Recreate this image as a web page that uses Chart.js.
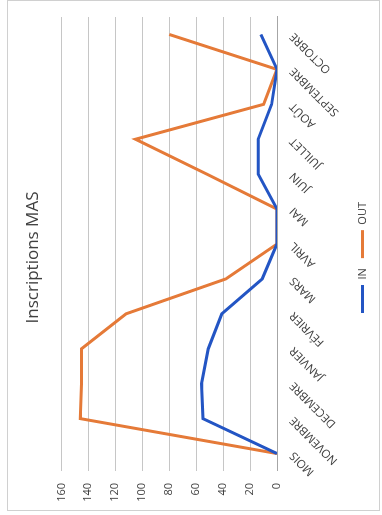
<!DOCTYPE html>
<html>
<head>
<meta charset="utf-8">
<script src="https://cdn.jsdelivr.net/npm/chart.js@4.4.1/dist/chart.umd.min.js"></script>
<style>
html, body { margin: 0; padding: 0; background: #fff; overflow: hidden; }
/* the chart is drawn landscape, then turned a quarter to the left like the scan */
#wrap { position: absolute; left: 0; top: 0; width: 515px; height: 382px;
        transform-origin: 0 0; transform: translate(0, 515px) rotate(-90deg); }
#frame { position: absolute; left: 4px; top: 7px; width: 509px; height: 371px; border: 1px solid #d0d0d0; }
canvas { position: absolute; left: 0; top: 0; }
</style>
</head>
<body>
<div id="wrap"><div id="frame"></div><canvas id="myChart" width="515" height="382"></canvas></div>
<script>
var mois = ['MOIS', 'NOVEMBRE', 'DECEMBRE', 'JANVIER', 'FÉVRIER', 'MARS', 'AVRIL',
            'MAI', 'JUIN', 'JUILLET', 'AOÛT', 'SEPTEMBRE', 'OCTOBRE'];
var inscritsIn  = [0, 55, 56, 51, 41, 11, 0, 0, 14, 14, 4, 0, 12];
var inscritsOut = [0, 146, 145, 145, 112, 38, 0, 0, 52, 105, 10, 0, 80];
var valeurMin = 0;
var valeurMax = 160;
var pasValeur = 20;

var police = "'Open Sans', 'Liberation Sans', sans-serif";
var ctx = document.getElementById('myChart').getContext('2d');

var data = {
    labels: mois,
    datasets: [{
        label: 'IN',
        data: inscritsIn,
        borderColor: '#2355c4',
        backgroundColor: '#2355c4',
        borderWidth: 3,
        pointRadius: 0,
        tension: 0
    }, {
        label: 'OUT',
        data: inscritsOut,
        borderColor: '#e57a38',
        backgroundColor: '#e57a38',
        borderWidth: 3,
        pointRadius: 0,
        tension: 0
    }]
};

var myChart = new Chart(ctx, {
    type: 'line',
    data: data,
    options: {
        responsive: false,
        animation: false,
        devicePixelRatio: 1,
        layout: { padding: { left: 0, right: 0, top: 0, bottom: 4 } },
        plugins: {
            tooltip: { enabled: false },
            title: {
                display: true,
                text: 'Inscriptions MAS',
                color: '#404040',
                font: { family: police, size: 17, weight: 'normal' },
                padding: { top: 23, bottom: 18 }
            },
            legend: {
                position: 'bottom',
                labels: {
                    usePointStyle: true,
                    pointStyle: 'line',
                    pointStyleWidth: 28,
                    color: '#404040',
                    padding: 10,
                    font: { family: police, size: 11 }
                }
            }
        },
        scales: {
            x: {
                offset: true,
                grid: { display: false, drawTicks: false },
                border: { display: true, color: '#a6a6a6', width: 1 },
                ticks: {
                    autoSkip: false,
                    minRotation: 45,
                    maxRotation: 45,
                    padding: 10,
                    color: '#404040',
                    font: { family: police, size: 11.5 }
                },
                afterFit: function(scale) {
                    scale.height = 70;
                    scale.paddingRight = 17;
                }
            },
            y: {
                min: valeurMin,
                max: valeurMax,
                grid: { color: '#c6c6c6', drawTicks: false },
                border: { display: false },
                ticks: {
                    stepSize: pasValeur,
                    padding: 12,
                    color: '#404040',
                    font: { family: police, size: 11 }
                },
                afterFit: function(scale) { scale.width = 44; }
            }
        }
    }
});
</script>
</body>
</html>
